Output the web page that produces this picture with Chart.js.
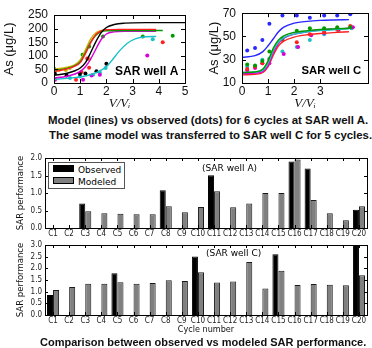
<!DOCTYPE html>
<html>
<head>
<meta charset="utf-8">
<script src="https://cdn.jsdelivr.net/npm/chart.js@4"></script>
<style>
  body { margin: 0; background: #fff; overflow: hidden; }
  #page { position: relative; width: 372px; height: 348px; overflow: hidden; }
  canvas { position: absolute; }
  .cap { position: absolute; font: bold 11px "Liberation Sans", Arial, sans-serif; color: #111; white-space: nowrap; }
  #legendA { position: absolute; border: 1px solid #555; background: #fff; font: 9px "DejaVu Sans", sans-serif; padding: 1px 3px 0 4px; white-space: nowrap; }
  #legendA div { height: 12px; line-height: 12px; }
  #legendA span.sw { display: inline-block; width: 19px; height: 5px; border: 1px solid #000; margin-right: 4px; vertical-align: 1px; }
</style>
</head>
<body>
<div id="page">
  <canvas id="lineA" width="190" height="112" style="left:0;top:0"></canvas>
  <canvas id="lineC" width="186" height="112" style="left:186px;top:0"></canvas>
  <div class="cap" data-w="320" style="left:48px;top:114px">Model (lines) vs observed (dots) for 6 cycles at SAR well A.</div>
  <div class="cap" data-w="323" style="left:49px;top:129px">The same model was transferred to SAR well C for 5 cycles.</div>
  <canvas id="barA" width="372" height="100" style="left:0;top:140px"></canvas>
  <canvas id="barC" width="372" height="100" style="left:0;top:235px"></canvas>
  <div id="legendA" style="left:48px;top:162px"></div>
  <div class="cap" data-w="327" style="left:40px;top:336px">Comparison between observed vs modeled SAR performance.</div>
</div>
<script>
// ---- well A: model curves [V/Vi, As] ----
const modelA_black = [[0,28],[0.5,36],[0.8,45],[1.0,55],[1.2,75],[1.4,112],[1.6,152],[1.8,185],[2.0,204],[2.3,215],[2.7,220],[3.5,222],[5.0,222]];
const modelA_red = [[0,42],[0.5,52],[0.8,62],[1.0,75],[1.2,108],[1.4,148],[1.6,178],[1.8,192],[2.0,196],[2.5,197],[3.9,197]];
const modelA_orange = [[0,50],[0.5,58],[0.8,68],[1.0,85],[1.2,122],[1.4,162],[1.6,185],[1.8,193],[2.0,195],[2.5,195],[3.7,195]];
const modelA_green = [[0,45],[0.5,54],[0.8,64],[1.0,78],[1.2,112],[1.4,150],[1.6,176],[1.8,188],[2.0,192],[2.5,193],[4.15,193]];
const modelA_magenta = [[0,18],[0.5,25],[0.8,33],[1.0,43],[1.2,60],[1.4,88],[1.6,125],[1.8,160],[2.0,180],[2.3,188],[2.7,190],[3.9,190]];
const modelA_cyan = [[0,14],[0.5,17],[1.0,22],[1.5,34],[1.8,47],[2.0,60],[2.2,82],[2.5,118],[2.8,146],[3.1,162],[3.5,170],[3.9,171]];

// ---- well A: observed dots ----
const obsA_black = [[0.03,35],[0.48,28],[0.99,33],[1.2,35],[1.62,43],[2.0,71]];
const obsA_red = [[0.84,12],[1.05,40],[1.34,56],[1.27,90],[4.15,150]];
const obsA_green = [[0.0,53],[1.09,104],[1.34,134],[1.87,171],[3.39,171],[4.53,174]];
const obsA_orange = [[0.2,49],[0.45,48],[0.6,55],[1.34,88]];
const obsA_magenta = [[0.04,12],[1.11,12],[1.43,28],[1.75,30],[3.56,101]];
const obsA_cyan = [[0.61,18],[0.99,24],[1.49,30],[1.75,39],[1.97,55],[3.77,161]];

// ---- well C: model curves ----
const modelC_blue = [[0,32],[0.5,33.5],[0.8,37],[1.0,42],[1.2,48],[1.4,54],[1.6,58],[2.0,61.5],[2.5,63],[3.0,63.8],[3.5,64.2],[4.1,64.5]];
const modelC_green = [[0,19],[0.5,19.5],[0.8,22],[1.0,29],[1.2,40],[1.4,47],[1.6,50.5],[2.0,53.5],[2.5,55],[3.0,56],[3.5,56.5],[4.1,57]];
const modelC_red = [[0,17],[0.5,17.5],[0.8,19],[1.0,24],[1.2,34],[1.4,42],[1.6,46],[2.0,49.5],[2.5,51.5],[3.0,52.5],[3.5,53.3],[4.1,54]];
const modelC_magenta = [[0,18],[0.5,18.5],[0.8,20],[1.0,25],[1.2,36],[1.4,44],[1.6,48.5],[2.0,52],[2.5,54],[3.0,55.5],[3.5,56.3],[4.1,57]];
const modelC_cyan = [[0,19],[0.5,19.5],[0.8,21],[1.0,27],[1.2,38],[1.4,45],[1.6,49],[2.0,52],[2.5,54],[3.0,55],[3.5,55.8],[4.1,56.5]];

// ---- well C: observed dots ----
const obsC_blue = [[0.2,38],[0.5,40],[0.78,47],[1.05,61],[1.55,68],[2.1,68],[2.6,66],[3.15,68],[3.65,68],[4.15,69]];
const obsC_green = [[0.2,26],[0.5,25],[0.78,29],[1.05,37],[1.55,48],[2.1,55],[2.6,57],[3.15,57],[3.65,58],[4.15,58]];
const obsC_red = [[0.2,22],[0.5,24],[0.78,27],[1.05,30],[1.55,47],[2.1,45],[2.6,52],[3.15,54],[3.65,56],[4.15,59]];
const obsC_magenta = [[0.2,21],[0.5,23],[0.78,27],[1.05,27],[1.6,35],[2.15,41],[2.65,51],[3.15,53],[3.7,56],[4.25,58]];
const obsC_cyan = [[0.2,24],[0.5,24],[0.78,30],[1.05,31],[1.55,37],[2.1,41],[2.6,47],[3.15,52],[3.7,55],[4.2,57]];

// ---- SAR performance bars ----
const cycles = ['C1','C2','C3','C4','C5','C6','C7','C8','C9','C10','C11','C12','C13','C14','C15','C16','C17','C18','C19','C20'];
const observedA = [null,null,0.70,null,null,null,null,1.08,null,null,1.51,null,null,null,null,1.90,1.70,null,null,0.52];
const modeledA = [null,null,0.48,0.42,0.41,0.39,0.39,0.62,0.45,0.60,1.05,0.59,0.70,1.00,1.00,1.96,0.80,0.42,0.22,0.62];
const observedC = [0.86,null,null,null,1.79,null,null,null,null,2.51,null,null,null,null,2.60,null,null,null,null,3.0];
const modeledC = [1.07,1.20,1.34,1.34,1.40,1.34,1.37,1.49,1.46,1.83,1.39,1.44,2.27,1.14,1.90,1.29,1.33,1.30,1.27,1.70];

const colors = { black: '#000000', red: '#ff2020', green: '#009a00', orange: '#c8b400', magenta: '#d800d8', cyan: '#1cc0c8', blue: '#2828ff' };

// frame + inward ticks on all four sides, and a text note inside the plot
const frameTicks = {
  id: 'frameTicks',
  afterDraw(chart, args, opts) {
    const { ctx, chartArea: a, scales } = chart;
    const len = opts.len || 4;
    ctx.save();
    ctx.strokeStyle = '#000';
    ctx.lineWidth = 1;
    ctx.beginPath();
    const xs = scales.x, ys = scales.y;
    xs.ticks.forEach((t, i) => {
      const px = Math.round(xs.getPixelForTick(i)) + 0.5;
      ctx.moveTo(px, a.bottom); ctx.lineTo(px, a.bottom - len);
      ctx.moveTo(px, a.top); ctx.lineTo(px, a.top + len);
    });
    ys.ticks.forEach((t, i) => {
      const py = Math.round(ys.getPixelForTick(i)) + 0.5;
      ctx.moveTo(a.left, py); ctx.lineTo(a.left + len, py);
      ctx.moveTo(a.right, py); ctx.lineTo(a.right - len, py);
    });
    ctx.stroke();
    ctx.strokeRect(Math.round(a.left) + 0.5, Math.round(a.top) + 0.5, Math.round(a.right - a.left), Math.round(a.bottom - a.top));
    if (opts.note) {
      const n = opts.note;
      ctx.font = n.font;
      ctx.fillStyle = '#000';
      ctx.textAlign = 'left';
      ctx.textBaseline = 'middle';
      ctx.fillText(n.text, xs.getPixelForValue(n.x), ys.getPixelForValue(n.y));
    }
    ctx.restore();
  }
};

function lineSet(pts, color) {
  return { data: pts.map(p => ({ x: p[0], y: p[1] })), borderColor: color, borderWidth: 1.4, showLine: true, pointRadius: 0, cubicInterpolationMode: 'monotone', fill: false };
}
function dotSet(pts, color) {
  return { data: pts.map(p => ({ x: p[0], y: p[1] })), backgroundColor: color, borderColor: color, showLine: false, pointRadius: 2, borderWidth: 0 };
}

const tickFont = { family: '"Liberation Sans", Arial, sans-serif', size: 12 };

function lineOptions(yMin, yMax, yStep, xMax, yWidth, titlePad, note) {
  return {
    responsive: false,
    animation: false,
    layout: { padding: 0 },
    plugins: { legend: { display: false }, tooltip: { enabled: false }, frameTicks: { len: 4, note: note } },
    scales: {
      x: {
        type: 'linear', min: 0, max: xMax,
        ticks: { stepSize: 1, font: tickFont, color: '#111', padding: 1, autoSkip: false, maxRotation: 0 },
        grid: { display: false, drawTicks: false },
        border: { display: false },
        title: { display: true, text: 'V/Vᵢ', font: { family: '"Liberation Serif", "DejaVu Serif", serif', size: 13, style: 'italic' }, color: '#111', padding: { top: 0, bottom: 1 } },
        afterBuildTicks: s => { s.ticks = s.ticks.filter(t => Number.isInteger(t.value)); },
        afterFit: s => { s.height = 29; }
      },
      y: {
        min: yMin, max: yMax,
        ticks: { stepSize: yStep, font: tickFont, color: '#111', padding: 6, autoSkip: false },
        grid: { display: false, drawTicks: false },
        border: { display: false },
        title: { display: true, text: 'As (μg/L)', font: { family: '"Liberation Sans", Arial, sans-serif', size: 13 }, color: '#111', padding: { top: titlePad, bottom: 0 } },
        afterFit: s => { s.width = yWidth; }
      }
    }
  };
}

const optsA = lineOptions(0, 250, 50, 5, 54, 2, { text: 'SAR well A', x: 2.33, y: 40, font: 'bold 12px "Liberation Sans", Arial, sans-serif' });
optsA.layout.padding = { top: 15, right: 5, left: 0, bottom: 0 };
new Chart(document.getElementById('lineA'), {
  type: 'scatter',
  data: { datasets: [
    lineSet(modelA_black, colors.black), lineSet(modelA_red, colors.red), lineSet(modelA_green, colors.green),
    lineSet(modelA_orange, colors.orange), lineSet(modelA_magenta, colors.magenta), lineSet(modelA_cyan, colors.cyan),
    dotSet(obsA_black, colors.black), dotSet(obsA_red, colors.red), dotSet(obsA_green, colors.green),
    dotSet(obsA_orange, colors.orange), dotSet(obsA_magenta, colors.magenta), dotSet(obsA_cyan, colors.cyan)
  ] },
  options: optsA,
  plugins: [frameTicks]
});

const optsC = lineOptions(10, 70, 20, 4.83, 56, 21, { text: 'SAR well C', x: 2.28, y: 20, font: 'bold 11.3px "Liberation Sans", Arial, sans-serif' });
optsC.layout.padding = { top: 13, right: 1, left: 0, bottom: 0 };
new Chart(document.getElementById('lineC'), {
  type: 'scatter',
  data: { datasets: [
    lineSet(modelC_blue, colors.blue), lineSet(modelC_green, colors.green), lineSet(modelC_cyan, colors.cyan),
    lineSet(modelC_magenta, colors.magenta), lineSet(modelC_red, colors.red),
    dotSet(obsC_blue, colors.blue), dotSet(obsC_green, colors.green), dotSet(obsC_red, colors.red),
    dotSet(obsC_magenta, colors.magenta), dotSet(obsC_cyan, colors.cyan)
  ] },
  options: optsC,
  plugins: [frameTicks]
});

// ---- bar charts ----
const xLabFont = { family: '"DejaVu Sans Condensed", "Liberation Sans", sans-serif', size: 8 };
const yLabFont = { family: '"DejaVu Sans Condensed", "Liberation Sans", sans-serif', size: 8 };

function barChart(id, obs, mod, yMax, padTop, xHeight, showXTitle, note) {
  return new Chart(document.getElementById(id), {
    type: 'bar',
    data: {
      labels: cycles,
      datasets: [
        { label: 'Observed', data: obs, backgroundColor: '#000', borderColor: '#000', borderWidth: 1, categoryPercentage: 0.75, barPercentage: 1.0 },
        { label: 'Modeled', data: mod, backgroundColor: '#808080', borderColor: '#1a1a1a', borderWidth: 1, categoryPercentage: 0.75, barPercentage: 1.0 }
      ]
    },
    options: {
      responsive: false,
      animation: false,
      layout: { padding: { top: padTop, right: 5, left: 0, bottom: 0 } },
      plugins: { legend: { display: false }, tooltip: { enabled: false }, frameTicks: { len: 3, note: note } },
      scales: {
        x: {
          ticks: { font: xLabFont, color: '#222', padding: 1, maxRotation: 0, autoSkip: false },
          grid: { display: false, drawTicks: false },
          border: { display: false },
          title: { display: showXTitle, text: 'Cycle number', font: { family: '"DejaVu Sans Condensed", "DejaVu Sans", sans-serif', size: 9 }, color: '#111', padding: { top: 0, bottom: 0 } },
          afterFit: s => { s.height = xHeight; }
        },
        y: {
          min: 0, max: yMax,
          ticks: { stepSize: 0.5, font: yLabFont, color: '#222', padding: 3, autoSkip: false, callback: v => v.toFixed(1) },
          grid: { display: false, drawTicks: false },
          border: { display: false },
          title: { display: true, text: 'SAR performance', font: { family: '"DejaVu Sans", sans-serif', size: 8.5 }, color: '#111', padding: { top: 16, bottom: 0 } },
          afterFit: s => { s.width = 45; }
        }
      }
    },
    plugins: [frameTicks]
  });
}

const chartA = barChart('barA', observedA, modeledA, 2.0, 18, 12, false, { text: '(SAR well A)', x: 9.25, y: 1.69, font: '9px "DejaVu Sans", sans-serif' });
barChart('barC', observedC, modeledC, 3.0, 10, 20, true, { text: '(SAR well C)', x: 9.5, y: 2.61, font: '9px "DejaVu Sans", sans-serif' });

// legend of the well A bar chart, built from its datasets
const legend = document.getElementById('legendA');
chartA.data.datasets.forEach(ds => {
  const row = document.createElement('div');
  const sw = document.createElement('span');
  sw.className = 'sw';
  sw.style.background = ds.backgroundColor;
  row.appendChild(sw);
  row.appendChild(document.createTextNode(ds.label));
  legend.appendChild(row);
});

// captions: scale the font so each line spans the same width as in the figure
document.querySelectorAll('.cap').forEach(el => {
  const target = parseFloat(el.dataset.w);
  const size = 11 * target / el.offsetWidth;
  el.style.fontSize = size.toFixed(2) + 'px';
});
</script>
</body>
</html>
